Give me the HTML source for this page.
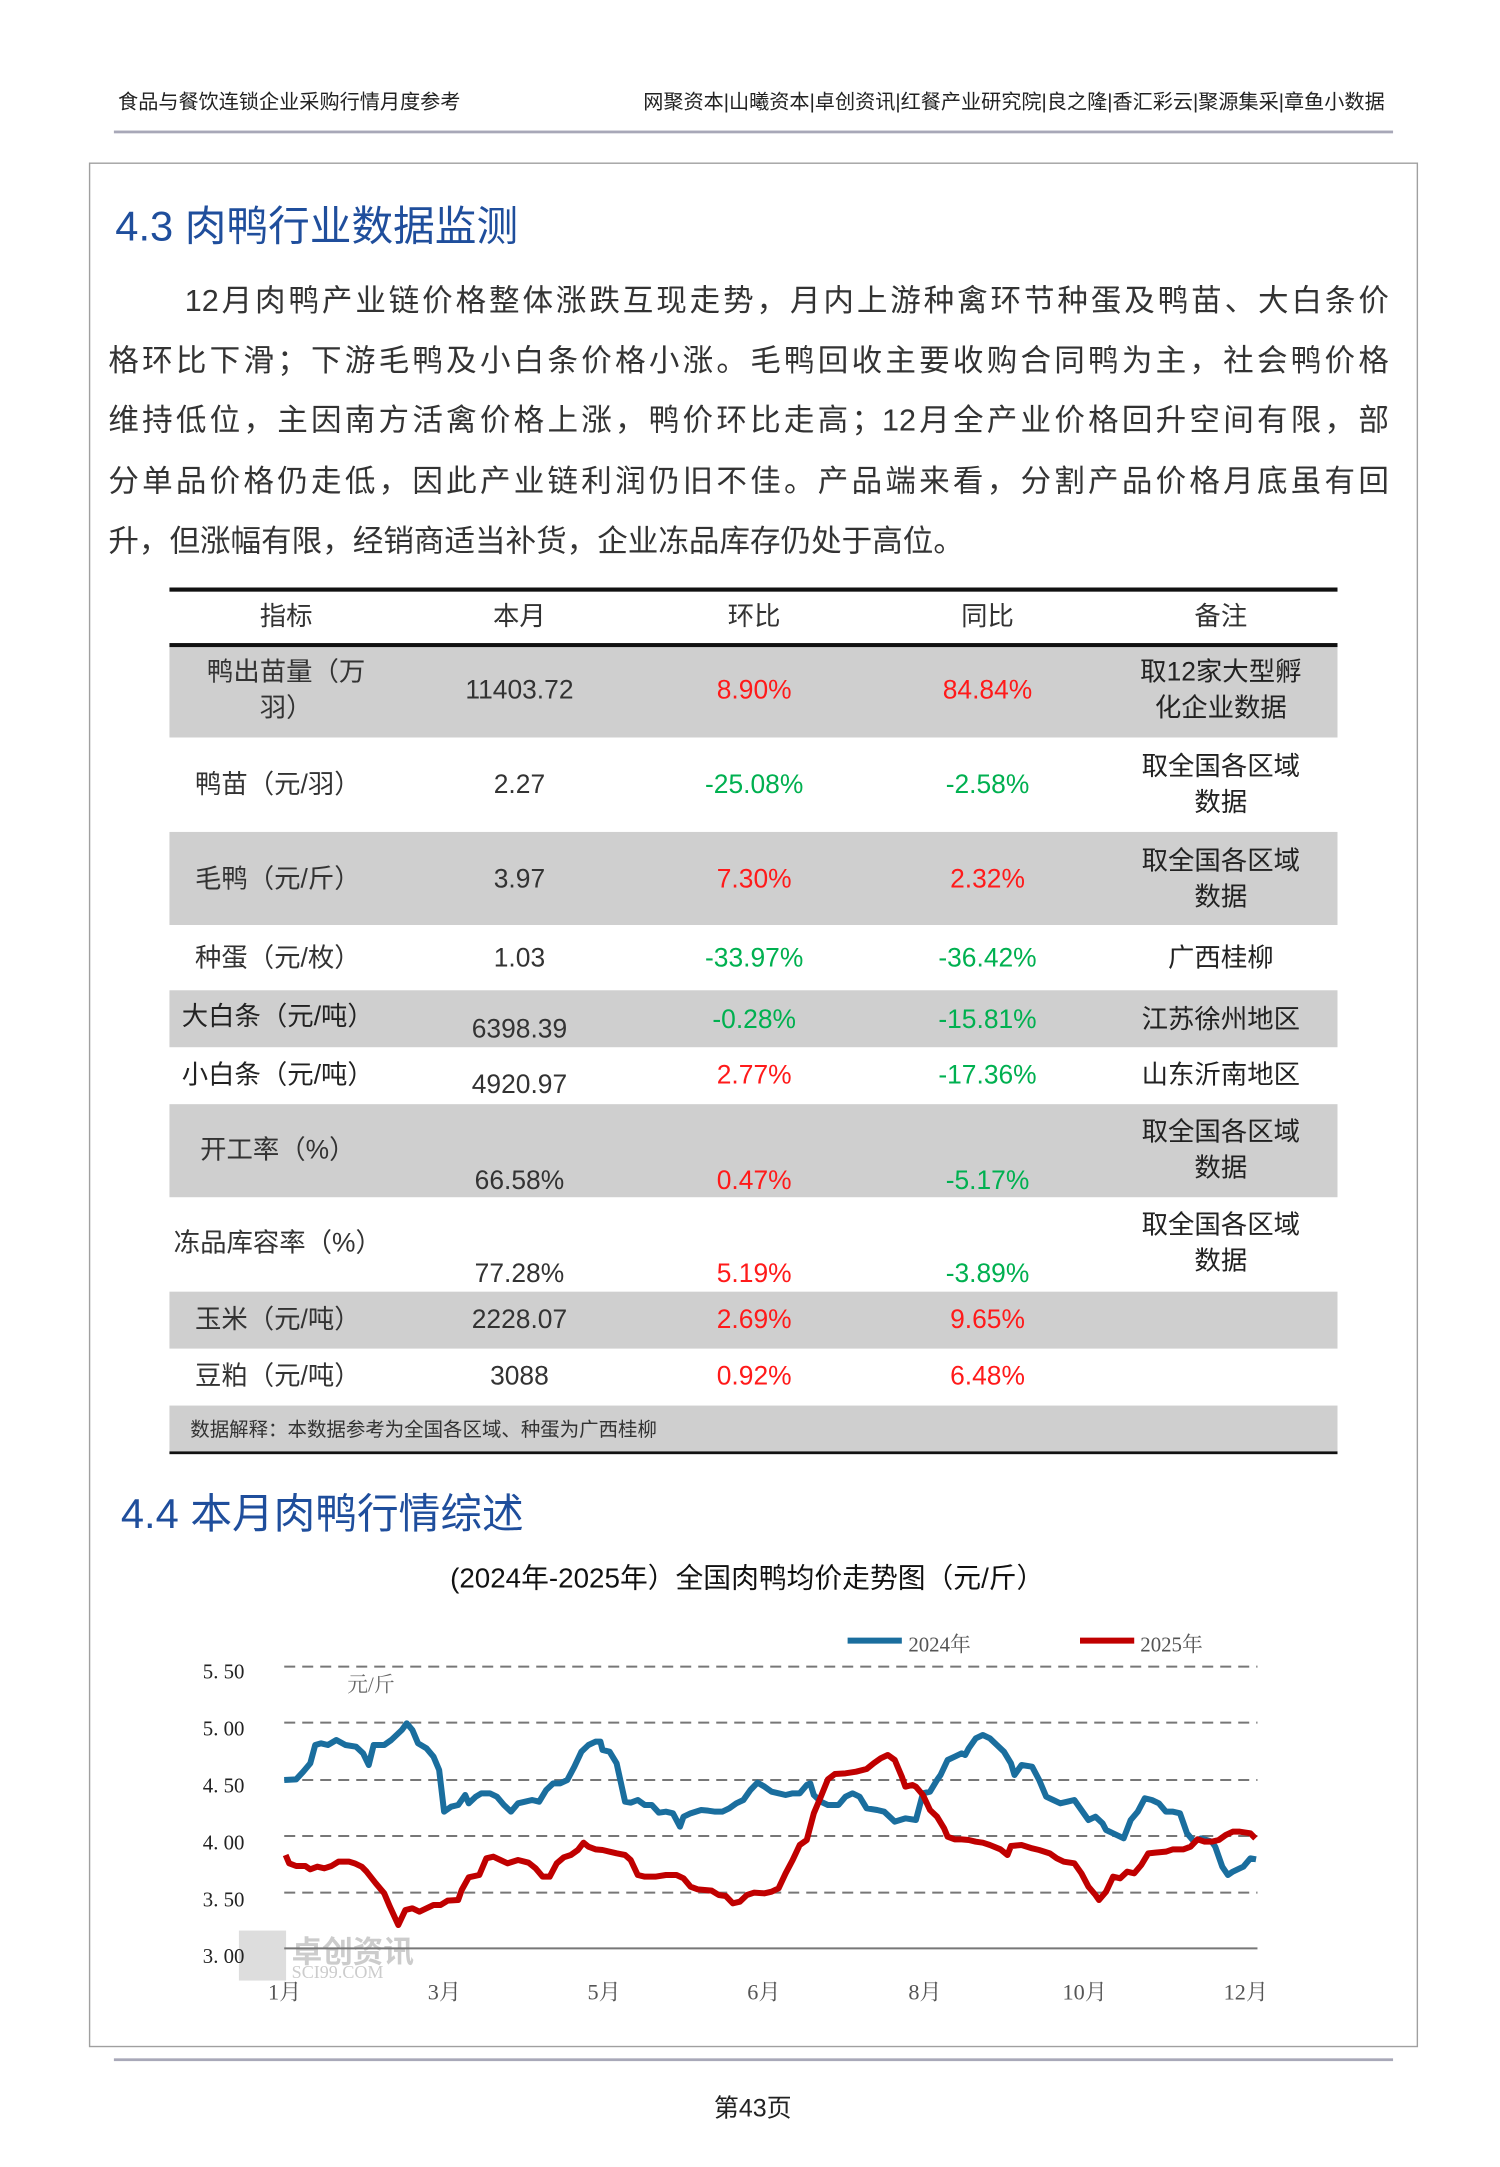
<!DOCTYPE html>
<html><head><meta charset="utf-8"><style>
html,body{margin:0;padding:0;background:#fff;}
body{width:1500px;height:2167px;position:relative;overflow:hidden;}
#c{position:absolute;left:0;top:0;width:1080px;height:1560px;transform:scale(1.388889);transform-origin:0 0;font-family:"Liberation Sans","Noto Sans CJK SC",sans-serif;color:#333;}
#c div{position:absolute;white-space:nowrap;}
.t{transform:translate(-50%,-50%);text-align:center;font-size:19px;line-height:26px;color:#333;}
.r{color:#ff1a1a;}.g{color:#00b050;}
.gray{background:#cfcfcf;left:122px;width:841px;}
.p{font-size:22px;color:#333;left:78px;width:922px;text-align:justify;text-align-last:justify;}
.yl{font-family:"Liberation Serif","Noto Serif CJK SC",serif;font-size:15px;color:#222;transform:translate(0,-50%);left:146px;}
.xl{font-family:"Liberation Serif","Noto Serif CJK SC",serif;font-size:16px;color:#555;transform:translate(-50%,-50%);top:1433px;}
</style></head><body>
<div id="c">
<div style="left:85px;top:62px;font-size:14.5px;color:#222;">食品与餐饮连锁企业采购行情月度参考</div>
<div style="right:83px;top:62px;font-size:14.5px;color:#222;">网聚资本|山曦资本|卓创资讯|红餐产业研究院|良之隆|香汇彩云|聚源集采|章鱼小数据</div>
<div style="left:82px;top:94px;width:921px;height:2px;background:#a8a8b8;"></div>
<div style="left:64px;top:117px;width:955px;height:1355px;border:1px solid #a0a0a0;"></div>
<div style="left:83px;top:138px;font-size:30px;color:#1f4e9c;">4.3 肉鸭行业数据监测</div>
<div class="p" style="top:199px;left:133px;width:867px;">12月肉鸭产业链价格整体涨跌互现走势，月内上游种禽环节种蛋及鸭苗、大白条价</div>
<div class="p" style="top:242px;">格环比下滑；下游毛鸭及小白条价格小涨。毛鸭回收主要收购合同鸭为主，社会鸭价格</div>
<div class="p" style="top:285px;">维持低位，主因南方活禽价格上涨，鸭价环比走高；12月全产业价格回升空间有限，部</div>
<div class="p" style="top:329px;">分单品价格仍走低，因此产业链利润仍旧不佳。产品端来看，分割产品价格月底虽有回</div>
<div class="p" style="top:372px;text-align-last:left;width:auto;">升，但涨幅有限，经销商适当补货，企业冻品库存仍处于高位。</div>

<div style="left:122px;top:423px;width:841px;height:3px;background:#111;"></div>
<div style="left:122px;top:463px;width:841px;height:3px;background:#111;"></div>
<div class="gray" style="top:466px;height:65px;"></div>
<div class="gray" style="top:599px;height:67px;"></div>
<div class="gray" style="top:713px;height:41px;"></div>
<div class="gray" style="top:795px;height:67px;"></div>
<div class="gray" style="top:930px;height:41px;"></div>
<div class="gray" style="top:1012px;height:33px;"></div>
<div style="left:122px;top:1045px;width:841px;height:2px;background:#111;"></div>

<div class="t" style="left:206px;top:445px;">指标</div><div class="t" style="left:374px;top:445px;">本月</div><div class="t" style="left:543px;top:445px;">环比</div><div class="t" style="left:711px;top:445px;">同比</div><div class="t" style="left:879px;top:445px;">备注</div>

<div class="t" style="left:206px;top:498px;">鸭出苗量（万<br>羽）</div><div class="t" style="left:374px;top:498px;">11403.72</div><div class="t r" style="left:543px;top:498px;">8.90%</div><div class="t r" style="left:711px;top:498px;">84.84%</div><div class="t" style="left:879px;top:498px;color:#222;">取12家大型孵<br>化企业数据</div>

<div class="t" style="left:200px;top:566px;">鸭苗（元/羽）</div><div class="t" style="left:374px;top:566px;">2.27</div><div class="t g" style="left:543px;top:566px;">-25.08%</div><div class="t g" style="left:711px;top:566px;">-2.58%</div><div class="t" style="left:879px;top:566px;color:#222;">取全国各区域<br>数据</div>

<div class="t" style="left:200px;top:634px;">毛鸭（元/斤）</div><div class="t" style="left:374px;top:634px;">3.97</div><div class="t r" style="left:543px;top:634px;">7.30%</div><div class="t r" style="left:711px;top:634px;">2.32%</div><div class="t" style="left:879px;top:634px;color:#222;">取全国各区域<br>数据</div>

<div class="t" style="left:200px;top:691px;">种蛋（元/枚）</div><div class="t" style="left:374px;top:691px;">1.03</div><div class="t g" style="left:543px;top:691px;">-33.97%</div><div class="t g" style="left:711px;top:691px;">-36.42%</div><div class="t" style="left:879px;top:691px;color:#222;">广西桂柳</div>

<div class="t" style="left:200px;top:733px;color:#222;">大白条（元/吨）</div><div class="t" style="left:374px;top:742px;">6398.39</div><div class="t g" style="left:543px;top:735px;">-0.28%</div><div class="t g" style="left:711px;top:735px;">-15.81%</div><div class="t" style="left:879px;top:735px;color:#222;">江苏徐州地区</div>

<div class="t" style="left:200px;top:775px;color:#222;">小白条（元/吨）</div><div class="t" style="left:374px;top:782px;">4920.97</div><div class="t r" style="left:543px;top:775px;">2.77%</div><div class="t g" style="left:711px;top:775px;">-17.36%</div><div class="t" style="left:879px;top:775px;color:#222;">山东沂南地区</div>

<div class="t" style="left:200px;top:829px;">开工率（%）</div><div class="t" style="left:374px;top:851px;">66.58%</div><div class="t r" style="left:543px;top:851px;">0.47%</div><div class="t g" style="left:711px;top:851px;">-5.17%</div><div class="t" style="left:879px;top:829px;color:#222;">取全国各区域<br>数据</div>

<div class="t" style="left:200px;top:896px;">冻品库容率（%）</div><div class="t" style="left:374px;top:918px;">77.28%</div><div class="t r" style="left:543px;top:918px;">5.19%</div><div class="t g" style="left:711px;top:918px;">-3.89%</div><div class="t" style="left:879px;top:896px;color:#222;">取全国各区域<br>数据</div>

<div class="t" style="left:200px;top:951px;">玉米（元/吨）</div><div class="t" style="left:374px;top:951px;">2228.07</div><div class="t r" style="left:543px;top:951px;">2.69%</div><div class="t r" style="left:711px;top:951px;">9.65%</div>

<div class="t" style="left:200px;top:992px;">豆粕（元/吨）</div><div class="t" style="left:374px;top:992px;">3088</div><div class="t r" style="left:543px;top:992px;">0.92%</div><div class="t r" style="left:711px;top:992px;">6.48%</div>

<div style="left:137px;top:1019px;font-size:14px;color:#333;">数据解释：本数据参考为全国各区域、种蛋为广西桂柳</div>

<div style="left:87px;top:1065px;font-size:30px;color:#1f4e9c;">4.4 本月肉鸭行情综述</div>
<div class="t" style="left:538px;top:1137px;font-size:20px;color:#111;">(2024年-2025年）全国肉鸭均价走势图（元/斤）</div>

<div style="left:172px;top:1390px;width:34px;height:36px;background:#ddd;"></div>
<div style="left:210px;top:1388px;font-size:22px;color:#ccc;font-weight:bold;">卓创资讯</div>
<div style="left:210px;top:1412px;font-size:13px;color:#ccc;font-family:'Liberation Serif',serif;">SCI99.COM</div>

<div class="yl" style="top:1205px;">5. 50</div><div class="yl" style="top:1246px;">5. 00</div><div class="yl" style="top:1287px;">4. 50</div><div class="yl" style="top:1328px;">4. 00</div><div class="yl" style="top:1369px;">3. 50</div><div class="yl" style="top:1410px;">3. 00</div>
<div style="left:250px;top:1202px;font-size:15px;color:#666;font-family:'Liberation Serif','Noto Serif CJK SC',serif;">元/斤</div>
<div class="xl" style="left:205px;">1月</div><div class="xl" style="left:320px;">3月</div><div class="xl" style="left:435px;">5月</div><div class="xl" style="left:550px;">6月</div><div class="xl" style="left:666px;">8月</div><div class="xl" style="left:781px;">10月</div><div class="xl" style="left:897px;">12月</div>
<div style="left:654px;top:1173px;font-size:15px;color:#555;font-family:'Liberation Serif','Noto Serif CJK SC',serif;">2024年</div>
<div style="left:821px;top:1173px;font-size:15px;color:#555;font-family:'Liberation Serif','Noto Serif CJK SC',serif;">2025年</div>

<div style="left:82px;top:1482px;width:921px;height:2px;background:#a8a8b8;"></div>
<div class="t" style="left:542px;top:1518px;font-size:18px;color:#222;">第43页</div>
</div>

<svg style="position:absolute;left:180px;top:1620px;" width="1100" height="380" viewBox="0 0 1562 1140" preserveAspectRatio="none">
<g stroke="#777" stroke-width="2" vector-effect="non-scaling-stroke" fill="none">
<line x1="148" y1="140" x2="1530" y2="140" stroke-dasharray="11 7" vector-effect="non-scaling-stroke"/>
<line x1="148" y1="308" x2="1530" y2="308" stroke-dasharray="11 7" vector-effect="non-scaling-stroke"/>
<line x1="148" y1="480" x2="1530" y2="480" stroke-dasharray="11 7" vector-effect="non-scaling-stroke"/>
<line x1="148" y1="648" x2="1530" y2="648" stroke-dasharray="11 7" vector-effect="non-scaling-stroke"/>
<line x1="148" y1="818" x2="1530" y2="818" stroke-dasharray="11 7" vector-effect="non-scaling-stroke"/>
<line x1="148" y1="985" x2="1530" y2="985" vector-effect="non-scaling-stroke"/>
</g>
<line x1="948" y1="62" x2="1025" y2="62" stroke="#1a6e9e" stroke-width="6" vector-effect="non-scaling-stroke"/>
<line x1="1278" y1="62" x2="1355" y2="62" stroke="#c00000" stroke-width="6" vector-effect="non-scaling-stroke"/>
<polyline fill="none" stroke="#1a6e9e" stroke-width="6" stroke-linejoin="round" vector-effect="non-scaling-stroke" points="148,480 165,478 175,455 185,430 192,375 200,370 210,375 222,360 235,375 250,380 260,400 268,435 275,375 290,375 300,360 315,330 322,310 330,330 338,370 350,385 360,410 368,450 375,575 385,560 395,555 405,525 410,550 420,530 428,520 440,520 450,530 460,555 470,575 480,550 490,545 500,540 510,545 520,510 530,490 540,490 550,480 560,440 570,395 580,375 590,365 597,365 600,390 610,395 620,430 632,545 640,548 650,540 660,555 670,555 680,578 690,575 700,580 710,620 715,590 725,580 740,570 750,572 760,575 770,575 780,565 790,550 800,540 810,510 820,488 830,500 840,515 850,520 860,525 870,520 880,520 890,495 895,490 900,525 910,545 920,555 935,555 945,530 955,520 965,530 975,565 990,570 1000,575 1010,595 1015,605 1030,595 1045,600 1055,520 1065,515 1075,480 1080,465 1090,420 1100,410 1110,400 1115,405 1120,385 1130,355 1140,345 1150,355 1160,375 1170,395 1180,430 1185,465 1195,435 1210,440 1220,480 1230,530 1240,540 1250,550 1260,545 1270,540 1280,570 1290,600 1300,590 1310,610 1315,630 1325,640 1340,655 1350,600 1360,575 1370,535 1380,540 1390,550 1400,575 1410,575 1420,580 1430,640 1440,665 1450,655 1465,665 1470,680 1480,740 1488,765 1495,755 1505,745 1510,740 1520,715 1528,718"/>
<polyline fill="none" stroke="#c00000" stroke-width="6" stroke-linejoin="round" vector-effect="non-scaling-stroke" points="150,705 155,730 165,738 178,738 185,748 195,740 205,745 215,738 225,725 240,725 248,730 258,740 265,755 278,790 290,820 298,860 310,915 320,870 330,865 340,875 350,865 360,855 370,855 380,842 395,840 400,810 410,772 425,765 435,715 445,710 455,720 465,730 480,720 495,728 505,745 515,770 525,770 535,730 545,712 555,705 565,690 573,668 580,680 590,688 600,690 610,695 620,700 632,705 640,720 650,765 660,770 675,770 690,765 705,765 715,775 725,800 735,808 745,810 755,812 765,825 775,828 785,850 795,845 805,825 815,818 830,820 840,815 850,805 860,760 870,720 880,675 890,660 900,580 910,530 920,478 930,462 945,460 960,455 975,447 985,430 995,415 1005,405 1015,420 1025,470 1030,500 1040,495 1045,500 1055,525 1065,570 1075,590 1085,625 1090,650 1100,658 1110,658 1120,660 1130,665 1140,668 1150,675 1165,688 1175,705 1180,678 1195,675 1210,685 1220,690 1235,700 1245,715 1255,725 1270,730 1280,760 1290,800 1300,825 1305,840 1315,815 1325,770 1335,775 1345,755 1355,760 1365,735 1375,700 1385,698 1400,695 1410,688 1425,688 1435,680 1445,658 1455,665 1465,665 1475,660 1485,645 1495,635 1505,635 1520,640 1527,655"/>
</svg>
</body></html>
